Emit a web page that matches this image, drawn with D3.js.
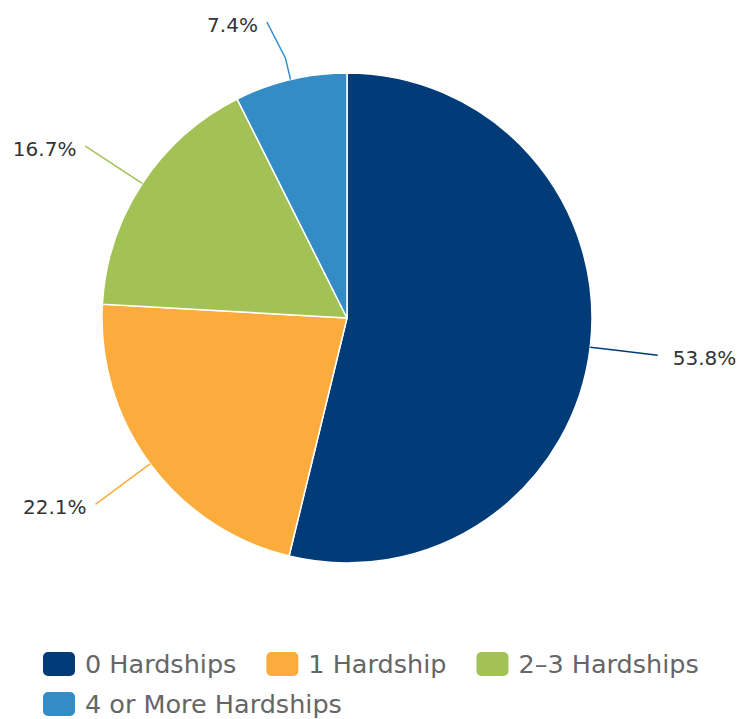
<!DOCTYPE html>
<html>
<head>
<meta charset="utf-8">
<script src="https://cdn.jsdelivr.net/npm/d3@7"></script>
<style>
  body { margin: 0; background: #fff; }
  text { font-family: "DejaVu Sans", sans-serif; }
</style>
</head>
<body>
<div id="chart"></div>
<script>
const categories = ["0 Hardships", "1 Hardship", "2\u20133 Hardships", "4 or More Hardships"];
const values = [53.8, 22.1, 16.7, 7.4];
const colors = ["#023c78", "#fbac3c", "#a3c255", "#338cc6"];

const width = 742, height = 719;
const cx = 347, cy = 318, radius = 245;

const svg = d3.select("#chart").append("svg")
    .attr("width", width)
    .attr("height", height);

const pie = d3.pie().sort(null).value(d => d)(values);
const arc = d3.arc().innerRadius(0).outerRadius(radius);

const g = svg.append("g").attr("transform", `translate(${cx},${cy})`);

// slices
g.selectAll("path.slice")
    .data(pie)
    .enter()
    .append("path")
    .attr("class", "slice")
    .attr("d", arc)
    .attr("fill", (d, i) => colors[i])
    .attr("stroke", "#fff")
    .attr("stroke-width", 1.5);

// point at angle a (clockwise from top) and distance r
const at = (a, r) => [Math.sin(a) * r, -Math.cos(a) * r];

// connectors + labels
pie.forEach((d, i) => {
    const mid = (d.startAngle + d.endAngle) / 2;
    const edge = at(mid, radius);
    const bend = at(mid, radius + 22);
    const anchor = at(mid, radius + 68);
    if (anchor[1] < 22 - cy) {
        // keep label inside the top, slide it along the side
        anchor[1] = 22 - cy;
        anchor[0] -= 8;
    }
    const right = anchor[0] > 0;

    g.append("path")
        .attr("d", d3.line()([edge, bend, anchor]))
        .attr("fill", "none")
        .attr("stroke", colors[i])
        .attr("stroke-width", 1.5);

    g.append("text")
        .attr("x", right ? anchor[0] + 15 : anchor[0] - 9)
        .attr("y", anchor[1] + 10)
        .attr("text-anchor", right ? "start" : "end")
        .style("font-size", "20px")
        .style("fill", "#333")
        .text(values[i].toFixed(1) + "%");
});

// legend
const legend = svg.append("g");
let lx = 43, row = 0;
categories.forEach((c, i) => {
    const item = legend.append("g");
    const t = item.append("text")
        .attr("x", 42)
        .attr("y", 21)
        .style("font-size", "25.5px")
        .style("fill", "#666")
        .text(c);
    const w = 42 + t.node().getComputedTextLength();
    if (lx + w > 715) { lx = 43; row++; }
    item.append("rect")
        .attr("width", 32)
        .attr("height", 24)
        .attr("rx", 5)
        .attr("fill", colors[i]);
    item.attr("transform", `translate(${lx},${652 + row * 40})`);
    lx += w + 30;
});
</script>
</body>
</html>
